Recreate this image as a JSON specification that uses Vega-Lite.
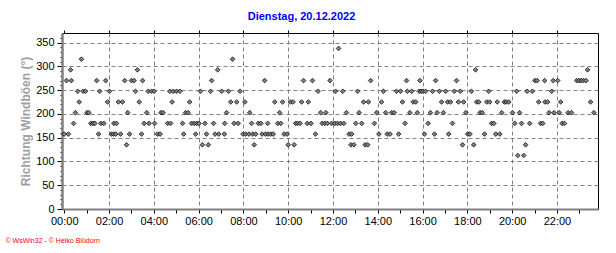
{
"$schema":"https://vega.github.io/schema/vega-lite/v6.json",
"width":536,"height":176,
"autosize":{"type":"none"},
"padding":{"left":62,"top":33,"right":18,"bottom":44},
"background":"white",
"title":{"text":"Dienstag, 20.12.2022","color":"#0000ff","font":"Liberation Sans","fontSize":11,"fontWeight":"bold","anchor":"middle","frame":"bounds","offset":8},
"data":{"values":[
{"t":0,"dir":157.5},{"t":6,"dir":270},{"t":11,"dir":157.5},{"t":17,"dir":292.5},{"t":19,"dir":270},{"t":25,"dir":180},{"t":30,"dir":202.5},{"t":36,"dir":247.5},{"t":40,"dir":225},{"t":46,"dir":315},{"t":51,"dir":247.5},{"t":57,"dir":247.5},{"t":61,"dir":202.5},{"t":66,"dir":202.5},{"t":71,"dir":180},{"t":77,"dir":180},{"t":82,"dir":180},{"t":87,"dir":270},{"t":92,"dir":157.5},{"t":95,"dir":247.5},{"t":98,"dir":180},{"t":106,"dir":180},{"t":111,"dir":270},{"t":116,"dir":225},{"t":121,"dir":247.5},{"t":126,"dir":157.5},{"t":132,"dir":157.5},{"t":133,"dir":180},{"t":138,"dir":157.5},{"t":140,"dir":180},{"t":145,"dir":225},{"t":151,"dir":157.5},{"t":156,"dir":225},{"t":162,"dir":270},{"t":167,"dir":135},{"t":170,"dir":202.5},{"t":175,"dir":157.5},{"t":180,"dir":270},{"t":187,"dir":270},{"t":191,"dir":247.5},{"t":196,"dir":292.5},{"t":201,"dir":225},{"t":207,"dir":157.5},{"t":210,"dir":270},{"t":214,"dir":180},{"t":221,"dir":202.5},{"t":225,"dir":247.5},{"t":227,"dir":180},
{"t":234,"dir":247.5},{"t":241,"dir":247.5},{"t":242,"dir":180},{"t":250,"dir":157.5},{"t":257,"dir":157.5},{"t":259,"dir":202.5},{"t":265,"dir":202.5},{"t":277,"dir":180},{"t":283,"dir":247.5},{"t":285,"dir":180},{"t":289,"dir":225},{"t":292,"dir":247.5},{"t":301,"dir":247.5},{"t":310,"dir":247.5},{"t":317,"dir":180},{"t":320,"dir":157.5},{"t":325,"dir":202.5},{"t":332,"dir":202.5},{"t":336,"dir":225},{"t":341,"dir":180},{"t":348,"dir":180},{"t":352,"dir":157.5},{"t":355,"dir":180},{"t":361,"dir":180},{"t":365,"dir":247.5},{"t":370,"dir":135},{"t":377,"dir":180},{"t":381,"dir":157.5},{"t":386,"dir":135},{"t":392,"dir":247.5},{"t":395,"dir":270},{"t":400,"dir":180},{"t":404,"dir":157.5},{"t":411,"dir":292.5},{"t":414,"dir":157.5},{"t":422,"dir":247.5},{"t":429,"dir":157.5},{"t":430,"dir":180},{"t":435,"dir":202.5},{"t":440,"dir":247.5},{"t":446,"dir":225},{"t":451,"dir":315},{"t":455,"dir":180},{"t":462,"dir":225},{"t":466,"dir":180},{"t":471,"dir":247.5},
{"t":479,"dir":157.5},{"t":484,"dir":225},{"t":486,"dir":157.5},{"t":495,"dir":157.5},{"t":497,"dir":202.5},{"t":502,"dir":180},{"t":505,"dir":157.5},{"t":509,"dir":135},{"t":513,"dir":157.5},{"t":520,"dir":180},{"t":527,"dir":180},{"t":530,"dir":157.5},{"t":537,"dir":270},{"t":539,"dir":157.5},{"t":545,"dir":180},{"t":546,"dir":157.5},{"t":553,"dir":157.5},{"t":560,"dir":157.5},{"t":564,"dir":225},{"t":572,"dir":180},{"t":577,"dir":202.5},{"t":580,"dir":180},{"t":585,"dir":225},{"t":589,"dir":157.5},{"t":597,"dir":157.5},{"t":600,"dir":135},{"t":606,"dir":225},{"t":613,"dir":225},{"t":616,"dir":135},{"t":620,"dir":180},{"t":625,"dir":180},{"t":632,"dir":180},{"t":636,"dir":225},{"t":641,"dir":270},{"t":651,"dir":180},{"t":654,"dir":225},{"t":661,"dir":180},{"t":665,"dir":270},{"t":673,"dir":157.5},{"t":680,"dir":247.5},{"t":687,"dir":202.5},{"t":691,"dir":180},{"t":698,"dir":180},{"t":701,"dir":202.5},{"t":705,"dir":180},{"t":712,"dir":270},
{"t":716,"dir":180},{"t":725,"dir":180},{"t":727,"dir":247.5},{"t":732,"dir":180},{"t":735,"dir":337.5},{"t":740,"dir":180},{"t":746,"dir":247.5},{"t":749,"dir":180},{"t":756,"dir":202.5},{"t":763,"dir":157.5},{"t":768,"dir":135},{"t":770,"dir":157.5},{"t":776,"dir":135},{"t":781,"dir":180},{"t":786,"dir":247.5},{"t":790,"dir":202.5},{"t":797,"dir":180},{"t":802,"dir":225},{"t":806,"dir":135},{"t":813,"dir":135},{"t":815,"dir":225},{"t":821,"dir":270},{"t":831,"dir":180},{"t":837,"dir":202.5},{"t":843,"dir":157.5},{"t":850,"dir":225},{"t":855,"dir":247.5},{"t":861,"dir":202.5},{"t":865,"dir":157.5},{"t":873,"dir":157.5},{"t":877,"dir":202.5},{"t":884,"dir":202.5},{"t":890,"dir":247.5},{"t":896,"dir":157.5},{"t":901,"dir":247.5},{"t":906,"dir":225},{"t":913,"dir":180},{"t":917,"dir":270},{"t":919,"dir":247.5},{"t":926,"dir":202.5},{"t":931,"dir":247.5},{"t":935,"dir":225},{"t":942,"dir":225},{"t":946,"dir":202.5},{"t":951,"dir":247.5},{"t":953,"dir":270},
{"t":956,"dir":247.5},{"t":961,"dir":247.5},{"t":965,"dir":157.5},{"t":968,"dir":247.5},{"t":975,"dir":180},{"t":981,"dir":202.5},{"t":987,"dir":247.5},{"t":992,"dir":157.5},{"t":995,"dir":270},{"t":999,"dir":202.5},{"t":1005,"dir":247.5},{"t":1011,"dir":225},{"t":1016,"dir":202.5},{"t":1022,"dir":247.5},{"t":1027,"dir":225},{"t":1030,"dir":157.5},{"t":1035,"dir":225},{"t":1040,"dir":180},{"t":1045,"dir":247.5},{"t":1051,"dir":270},{"t":1056,"dir":225},{"t":1061,"dir":247.5},{"t":1067,"dir":135},{"t":1070,"dir":225},{"t":1076,"dir":202.5},{"t":1081,"dir":157.5},{"t":1087,"dir":157.5},{"t":1091,"dir":247.5},{"t":1097,"dir":135},{"t":1102,"dir":292.5},{"t":1105,"dir":225},{"t":1111,"dir":225},{"t":1114,"dir":202.5},{"t":1120,"dir":202.5},{"t":1126,"dir":157.5},{"t":1132,"dir":225},{"t":1137,"dir":247.5},{"t":1140,"dir":225},{"t":1145,"dir":180},{"t":1151,"dir":180},{"t":1156,"dir":157.5},{"t":1160,"dir":225},{"t":1167,"dir":157.5},{"t":1172,"dir":202.5},{"t":1179,"dir":225},{"t":1184,"dir":225},{"t":1191,"dir":225},
{"t":1201,"dir":202.5},{"t":1207,"dir":180},{"t":1212,"dir":247.5},{"t":1215,"dir":112.5},{"t":1220,"dir":202.5},{"t":1225,"dir":180},{"t":1231,"dir":112.5},{"t":1236,"dir":135},{"t":1240,"dir":247.5},{"t":1247,"dir":180},{"t":1254,"dir":247.5},{"t":1261,"dir":270},{"t":1267,"dir":270},{"t":1271,"dir":225},{"t":1276,"dir":180},{"t":1282,"dir":180},{"t":1287,"dir":270},{"t":1288,"dir":225},{"t":1295,"dir":225},{"t":1299,"dir":202.5},{"t":1306,"dir":247.5},{"t":1310,"dir":270},{"t":1312,"dir":202.5},{"t":1322,"dir":270},{"t":1326,"dir":202.5},{"t":1330,"dir":225},{"t":1334,"dir":180},{"t":1340,"dir":180},{"t":1350,"dir":202.5},{"t":1359,"dir":202.5},{"t":1373,"dir":270},{"t":1379,"dir":270},{"t":1385,"dir":270},{"t":1391,"dir":270},{"t":1398,"dir":270},{"t":1402,"dir":292.5},{"t":1410,"dir":225},{"t":1419,"dir":202.5}
]},
"layer":[
{"mark":{"type":"point","shape":"diamond","filled":true,"size":22,"fill":"#808080","stroke":"#000000","strokeWidth":0.7,"opacity":1},
"encoding":{
"x":{"field":"t","type":"quantitative","scale":{"domain":[-6,1430],"nice":false,"zero":false},
"axis":{"values":[0,60,120,180,240,300,360,420,480,540,600,660,720,780,840,900,960,1020,1080,1140,1200,1260,1320,1380],
"labelExpr":"datum.value % 120 == 0 ? ((datum.value < 600 ? '0' : '') + (datum.value/60) + ':00') : ''",
"grid":true,"gridColor":{"condition":{"test":"datum.value % 120 == 0 && datum.value > 0","value":"#808080"},"value":"rgba(0,0,0,0)"},"gridDash":[4,3],"gridWidth":1,
"domainColor":"#808080","domainWidth":2,"tickColor":"#000000","tickSize":4,"tickWidth":1,
"labelFont":"Liberation Sans","labelFontSize":11,"labelColor":"#000000","labelPadding":2,"labelFlush":false,"labelOverlap":false,"labelBound":false,
"title":"© WsWin32 - © Heiko Blüdorn","titleColor":"#ff0000","titleFont":"Liberation Sans","titleFontSize":7,"titleFontWeight":"normal","titleAnchor":"start","titleAlign":"left","titleX":-57,"titleY":31,"titleBaseline":"middle"}},
"y":{"field":"dir","type":"quantitative","scale":{"domain":[0,370],"nice":false},
"axis":{"values":[0,10,20,30,40,50,60,70,80,90,100,110,120,130,140,150,160,170,180,190,200,210,220,230,240,250,260,270,280,290,300,310,320,330,340,350,360],
"labelExpr":"datum.value % 50 == 0 ? datum.label : ''",
"grid":true,"gridColor":{"condition":{"test":"datum.value % 50 == 0 && datum.value > 0","value":"#808080"},"value":"rgba(0,0,0,0)"},"gridDash":[4,3],"gridWidth":1,
"domainColor":"#808080","domainWidth":2.5,"tickColor":"#000000","tickSize":{"condition":{"test":"datum.value % 50 == 0","value":5},"value":2},
"labelFont":"Liberation Sans","labelFontSize":11,"labelColor":"#000000","labelPadding":3,"labelOverlap":false,"labelFlush":false,
"title":"Richtung Windböen (°)","titleColor":"#a0a0a0","titleFont":"Liberation Sans","titleFontSize":12,"titleFontWeight":"bold","titlePadding":3}}
}},
{"mark":{"type":"point","opacity":0},
"encoding":{"x":{"field":"t","type":"quantitative","axis":{"orient":"top","values":[0,120,240,360,480,600,720,840,960,1080,1200,1320],"labels":false,"grid":false,"domain":false,"ticks":true,"tickSize":3,"tickColor":"#000000","title":null}}}}
],
"resolve":{"axis":{"x":"independent"}},
"config":{"view":{"stroke":"#000000","strokeWidth":1}}
}
